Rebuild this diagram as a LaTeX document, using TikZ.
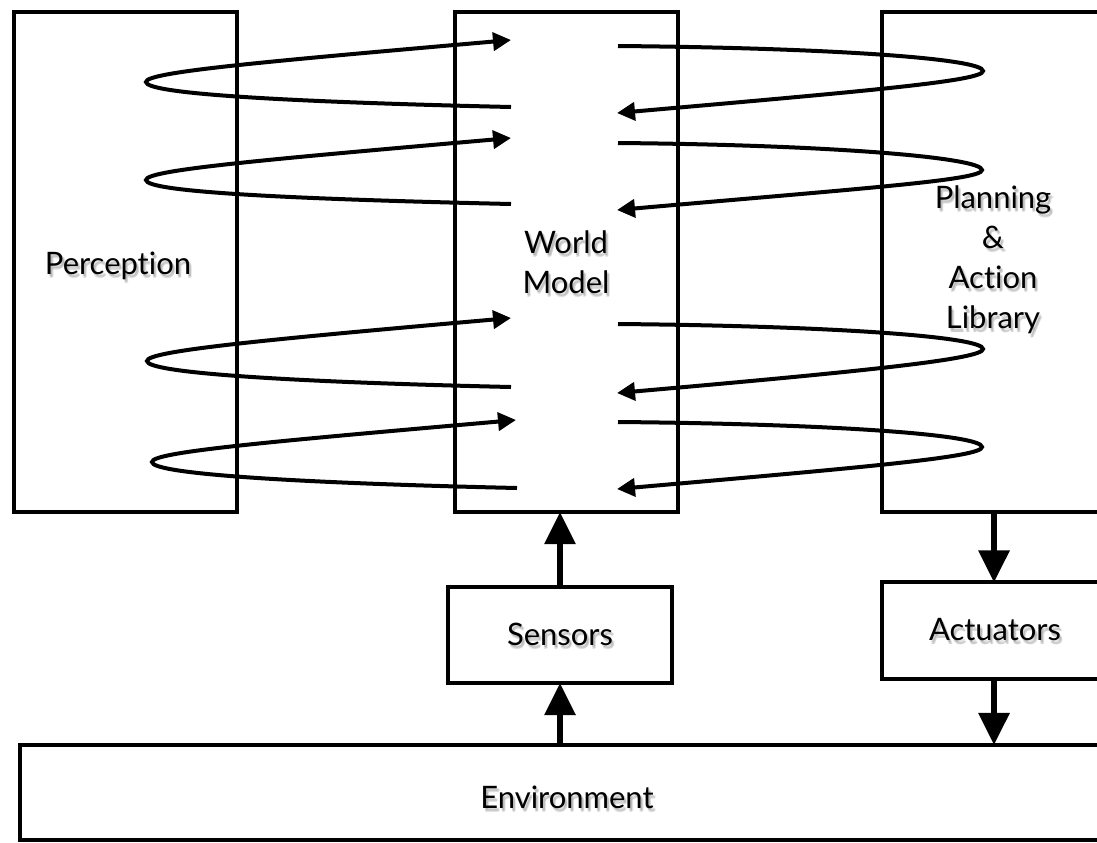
\documentclass[tikz,border=0pt]{standalone}
\usepackage{fontspec}
\setmainfont{Lato}[Ligatures={NoCommon}]
\usetikzlibrary{arrows.meta}

\begin{document}
\begin{tikzpicture}[x=0.025cm, y=-0.025cm,
  box/.style={draw, line width=0.1cm, inner sep=0pt, outer sep=0pt},
  tall/.style={box, minimum width=5.575cm, minimum height=12.5cm},
  small/.style={box, minimum width=5.6cm, minimum height=2.4cm},
  feedback/.style={line width=0.1cm, -{Triangle[length=0.45cm, width=0.45cm]}},
  flow/.style={line width=0.15cm, -{Triangle[length=0.8cm, width=0.75cm]}},
  lbl/.style={font=\fontsize{22}{28.5}\selectfont, align=center, inner sep=0pt},
  lblshadow/.style={lbl, text=black!60, opacity=0.18}]

\useasboundingbox (0,0) rectangle (1097,842);
\clip (0,0) rectangle (1097,842);

% text with a soft, slightly spread drop shadow
\newcommand\shtext[3]{%
  \node[lblshadow, xshift=0.04cm, yshift=-0.05cm] (#1sa) at (#2) {#3};
  \node[lblshadow, xshift=0.07cm, yshift=-0.08cm] (#1sb) at (#2) {#3};
  \node[lblshadow, xshift=0.05cm, yshift=-0.1cm]  (#1sc) at (#2) {#3};
  \node[lbl] (#1) at (#2) {#3};}

% main blocks
\node[tall] (perc) at (125.5,262) {};
\node[tall] (wm)   at (566.5,262) {};
\node[tall] (plan) at (993.5,262) {};
\node[small] (sens) at (560,635) {};
\node[small] (act)  at (994,630.5) {};
\node[box, minimum width=27.35cm, minimum height=2.375cm] (env) at (567,792.5) {};

% loops between Perception and World Model
\foreach \i/\tx/\ty/\px/\py/\ax/\ay in {
    1/511/107/146/82/511/40,
    2/511/204/146/180/511/138,
    3/511/387/147/361/511/318,
    4/517/488/152/462/516/420}{
  \coordinate (lt\i) at (\tx,\ty);
  \coordinate (lp\i) at (\px,\py);
  \coordinate (la\i) at (\ax,\ay);
  \draw[feedback] (lt\i) .. controls +(-220,-5) and +(0,12) .. (lp\i)
                         .. controls +(0,-10) and +(-250,22) .. (la\i);
}

% loops between World Model and Planning
\foreach \i/\tx/\ty/\px/\py/\ax/\ay in {
    1/618/46/983/71/617/113,
    2/618/143/982/170/617/210,
    3/618/324/983/349/617/393,
    4/618/422/982/447/617/489}{
  \coordinate (rt\i) at (\tx,\ty);
  \coordinate (rp\i) at (\px,\py);
  \coordinate (ra\i) at (\ax,\ay);
  \draw[feedback] (rt\i) .. controls +(220,2) and +(0,-12) .. (rp\i)
                         .. controls +(0,10) and +(250,-22) .. (ra\i);
}

% sensing and acting paths
\draw[flow] (sens.north) -- (sens.north |- wm.south);
\draw[flow] (sens.south |- env.north) -- (sens.south);
\draw[flow] (act.north |- plan.south) -- (act.north);
\draw[flow] (act.south) -- (act.south |- env.north);

% labels
\shtext{tperc}{118,266}{Perception}
\shtext{twm}{566,262}{World\\Model}
\shtext{tplan}{993,260}{Planning\\\&\\Action\\Library}
\shtext{tsens}{560,634}{Sensors}
\shtext{tact}{995,630}{Actuators}
\shtext{tenv}{567,797}{Environment}

\end{tikzpicture}
\end{document}
